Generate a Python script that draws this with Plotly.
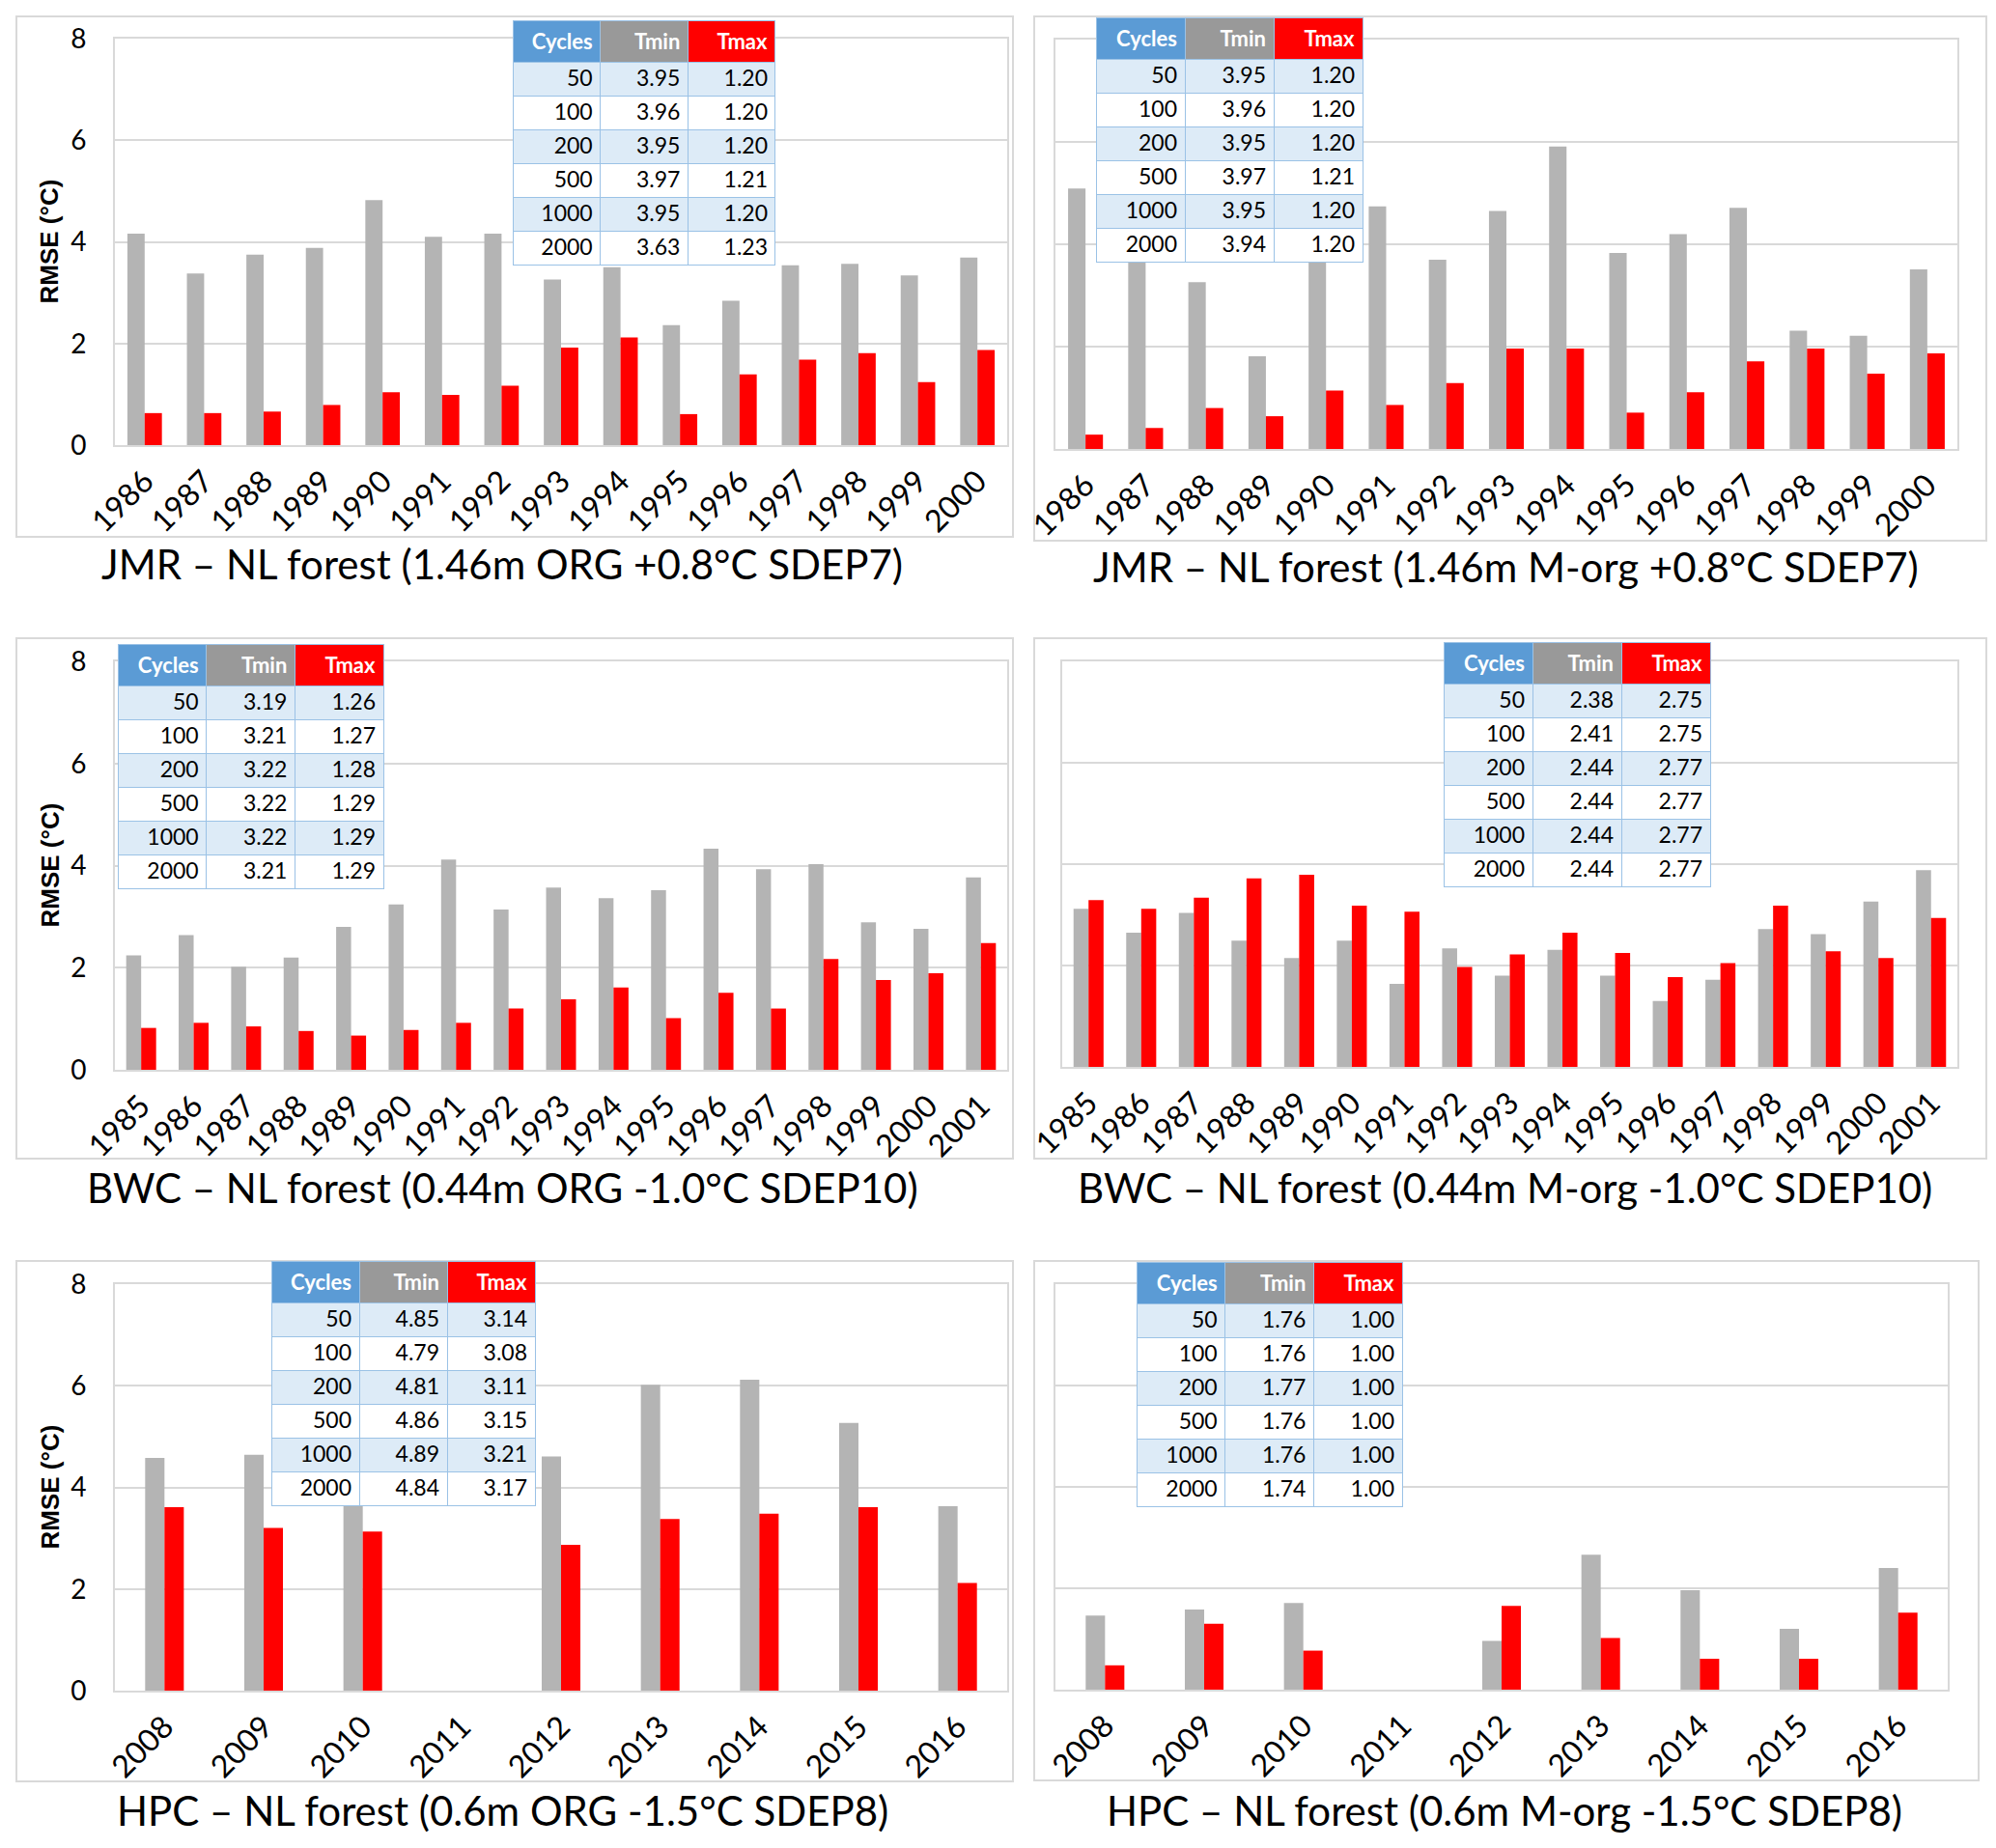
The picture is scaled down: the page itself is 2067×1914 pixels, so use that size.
import plotly.graph_objects as go

W, H = 2067, 1914

# ---------------- data ----------------
years_jmr = ['1986', '1987', '1988', '1989', '1990', '1991', '1992', '1993',
             '1994', '1995', '1996', '1997', '1998', '1999', '2000']
jmr_org_tmin = [4.16, 3.38, 3.75, 3.88, 4.82, 4.10, 4.16, 3.26, 3.50, 2.36, 2.84, 3.54, 3.57, 3.34, 3.69]
jmr_org_tmax = [0.63, 0.63, 0.66, 0.79, 1.04, 0.99, 1.17, 1.92, 2.12, 0.61, 1.39, 1.68, 1.81, 1.24, 1.87]
jmr_morg_tmin = [5.09, 3.89, 3.26, 1.81, 5.37, 4.74, 3.70, 4.65, 5.91, 3.83, 4.20, 4.71, 2.31, 2.21, 3.51]
jmr_morg_tmax = [0.28, 0.41, 0.80, 0.64, 1.14, 0.86, 1.29, 1.96, 1.96, 0.71, 1.11, 1.71, 1.96, 1.47, 1.87]

years_bwc = ['1985', '1986', '1987', '1988', '1989', '1990', '1991', '1992', '1993',
             '1994', '1995', '1996', '1997', '1998', '1999', '2000', '2001']
bwc_org_tmin = [2.24, 2.64, 2.02, 2.20, 2.80, 3.24, 4.12, 3.14, 3.57, 3.36, 3.52, 4.33, 3.93, 4.03, 2.89, 2.76, 3.77]
bwc_org_tmax = [0.82, 0.92, 0.85, 0.76, 0.67, 0.78, 0.92, 1.20, 1.38, 1.61, 1.01, 1.51, 1.20, 2.17, 1.76, 1.89, 2.48]
bwc_morg_tmin = [3.12, 2.65, 3.04, 2.49, 2.15, 2.49, 1.64, 2.34, 1.80, 2.31, 1.80, 1.30, 1.72, 2.72, 2.62, 3.26, 3.88]
bwc_morg_tmax = [3.29, 3.12, 3.34, 3.72, 3.79, 3.18, 3.06, 1.97, 2.22, 2.65, 2.25, 1.77, 2.05, 3.18, 2.28, 2.15, 2.94]

years_hpc = ['2008', '2009', '2010', '2011', '2012', '2013', '2014', '2015', '2016']
hpc_org_tmin = [4.58, 4.64, 3.85, None, 4.61, 6.02, 6.12, 5.27, 3.63]
hpc_org_tmax = [3.61, 3.20, 3.13, None, 2.87, 3.38, 3.48, 3.61, 2.12]
hpc_morg_tmin = [1.46, 1.58, 1.71, None, 0.96, 2.66, 1.96, 1.20, 2.40]
hpc_morg_tmax = [0.48, 1.30, 0.77, None, 1.65, 1.02, 0.61, 0.61, 1.52]

cycles = ['50', '100', '200', '500', '1000', '2000']
tab_jmr_org_tmin = [3.95, 3.96, 3.95, 3.97, 3.95, 3.63]
tab_jmr_org_tmax = [1.20, 1.20, 1.20, 1.21, 1.20, 1.23]
tab_jmr_morg_tmin = [3.95, 3.96, 3.95, 3.97, 3.95, 3.94]
tab_jmr_morg_tmax = [1.20, 1.20, 1.20, 1.21, 1.20, 1.20]
tab_bwc_org_tmin = [3.19, 3.21, 3.22, 3.22, 3.22, 3.21]
tab_bwc_org_tmax = [1.26, 1.27, 1.28, 1.29, 1.29, 1.29]
tab_bwc_morg_tmin = [2.38, 2.41, 2.44, 2.44, 2.44, 2.44]
tab_bwc_morg_tmax = [2.75, 2.75, 2.77, 2.77, 2.77, 2.77]
tab_hpc_org_tmin = [4.85, 4.79, 4.81, 4.86, 4.89, 4.84]
tab_hpc_org_tmax = [3.14, 3.08, 3.11, 3.15, 3.21, 3.17]
tab_hpc_morg_tmin = [1.76, 1.76, 1.77, 1.76, 1.76, 1.74]
tab_hpc_morg_tmax = [1.00, 1.00, 1.00, 1.00, 1.00, 1.00]

table_header = ['Cycles', 'Tmin', 'Tmax']
y_ticks = [0, 2, 4, 6, 8]
y_title = 'RMSE (°C)'

titles = [
    'JMR – NL forest (1.46m ORG +0.8°C SDEP7)',
    'JMR – NL forest (1.46m M-org +0.8°C SDEP7)',
    'BWC – NL forest (0.44m ORG -1.0°C SDEP10)',
    'BWC – NL forest (0.44m M-org -1.0°C SDEP10)',
    'HPC – NL forest (0.6m ORG -1.5°C SDEP8)',
    'HPC – NL forest (0.6m M-org -1.5°C SDEP8)',
]

# ---------------- layout geometry (window pixels) ----------------
panels = [
    dict(years=years_jmr, tmin=jmr_org_tmin, tmax=jmr_org_tmax, ttmin=tab_jmr_org_tmin, ttmax=tab_jmr_org_tmax,
         plot=(119, 40, 1043, 461), box=(17, 17, 1049, 556), table=(531, 21, 804), title=(520, 584), left=True, bw=0.29),
    dict(years=years_jmr, tmin=jmr_morg_tmin, tmax=jmr_morg_tmax, ttmin=tab_jmr_morg_tmin, ttmax=tab_jmr_morg_tmax,
         plot=(1093, 41, 2027, 465), box=(1071, 17, 2057, 560), table=(1135, 18, 1411), title=(1559, 587), left=False, bw=0.29),
    dict(years=years_bwc, tmin=bwc_org_tmin, tmax=bwc_org_tmax, ttmin=tab_bwc_org_tmin, ttmax=tab_bwc_org_tmax,
         plot=(119, 685, 1043, 1108), box=(17, 661, 1049, 1200), table=(122, 667, 397), title=(520, 1230), left=True, bw=0.285),
    dict(years=years_bwc, tmin=bwc_morg_tmin, tmax=bwc_morg_tmax, ttmin=tab_bwc_morg_tmin, ttmax=tab_bwc_morg_tmax,
         plot=(1100, 685, 2027, 1105), box=(1071, 661, 2057, 1200), table=(1495, 665, 1771), title=(1558, 1230), left=False, bw=0.285),
    dict(years=years_hpc, tmin=hpc_org_tmin, tmax=hpc_org_tmax, ttmin=tab_hpc_org_tmin, ttmax=tab_hpc_org_tmax,
         plot=(119, 1330, 1043, 1751), box=(17, 1306, 1049, 1845), table=(281, 1306, 555), title=(520, 1875), left=True, bw=0.195),
    dict(years=years_hpc, tmin=hpc_morg_tmin, tmax=hpc_morg_tmax, ttmin=tab_hpc_morg_tmin, ttmax=tab_hpc_morg_tmax,
         plot=(1093, 1330, 2017, 1750), box=(1071, 1306, 2049, 1844), table=(1177, 1307, 1453), title=(1558, 1875), left=False, bw=0.195),
]

FONT = 'Lato'
GRAY = '#B4B4B4'
RED = '#FF0000'
GRID = '#D9D9D9'
HDR_H, ROW_H = 33, 35

# the page body has an 8px margin: the figure is placed at (8, 8) in the window
OFF = 8
FW, FH = W - 2 * OFF, H - 2 * OFF


def fx(px):
    return (px - OFF) / FW


def fy(py):
    return 1 - (py - OFF) / FH


fig = go.Figure()
layout = dict(width=FW, height=FH, margin=dict(l=0, r=0, t=0, b=0, pad=0, autoexpand=False), autosize=False,
              template='none',
              paper_bgcolor='white', plot_bgcolor='rgba(0,0,0,0)', showlegend=False,
              font=dict(family=FONT, color='black'), shapes=[], annotations=[])

for i, p in enumerate(panels):
    n = i + 1
    xa = 'x' if n == 1 else f'x{n}'
    ya = 'y' if n == 1 else f'y{n}'
    x0, y0, x1, y1 = p['plot']
    bw = p['bw']
    fig.add_trace(go.Bar(x=p['years'], y=p['tmin'], marker=dict(color=GRAY, line=dict(width=0)),
                         width=bw, offset=-bw, xaxis=xa, yaxis=ya, name='Tmin'))
    fig.add_trace(go.Bar(x=p['years'], y=p['tmax'], marker=dict(color=RED, line=dict(width=0)),
                         width=bw, offset=0, xaxis=xa, yaxis=ya, name='Tmax'))
    layout[f'xaxis{"" if n == 1 else n}'] = dict(
        domain=[fx(x0), fx(x1)], anchor=ya, type='category', categoryorder='array',
        categoryarray=p['years'], range=[-0.5, len(p['years']) - 0.5], automargin=False,
        tickangle=-45, tickfont=dict(family=FONT, size=32, color='black'),
        showgrid=False, showline=True, mirror=True, linecolor=GRID, linewidth=2,
        ticks='', ticklabelstandoff=4, fixedrange=True)
    layout[f'yaxis{"" if n == 1 else n}'] = dict(
        domain=[fy(y1), fy(y0)], anchor=xa, range=[0, 8], tickvals=y_ticks, automargin=False,
        showticklabels=p['left'], tickfont=dict(family=FONT, size=28, color='black'),
        showgrid=True, gridcolor=GRID, gridwidth=2, zeroline=False,
        showline=True, mirror=True, linecolor=GRID, linewidth=2,
        ticks='', ticklabelstandoff=22, fixedrange=True)
    bx0, by0, bx1, by1 = p['box']
    layout['shapes'].append(dict(type='rect', xref='paper', yref='paper', x0=fx(bx0), x1=fx(bx1),
                                 y0=fy(by1), y1=fy(by0), line=dict(color=GRID, width=2),
                                 fillcolor='white', layer='below'))
    tx, ty = p['title']
    layout['annotations'].append(dict(text=titles[i], x=fx(tx), y=fy(ty), xref='paper', yref='paper',
                                      xanchor='center', yanchor='middle', showarrow=False,
                                      font=dict(family=FONT, size=42, color='black')))
    if p['left']:
        layout['annotations'].append(dict(text=f'<b>{y_title}</b>', x=fx(51), y=fy((y0 + y1) / 2),
                                          xref='paper', yref='paper', textangle=-90,
                                          xanchor='center', yanchor='middle', showarrow=False,
                                          font=dict(family='Liberation Sans', size=26, color='black')))
    # table (domain made taller than needed so no row is clipped)
    tx0, ty0, tx1 = p['table']
    ty1 = ty0 + HDR_H + ROW_H * len(cycles) + 60
    row_fill = ['#DDEBF7' if k % 2 == 0 else 'white' for k in range(len(cycles))]
    fig.add_trace(go.Table(
        domain=dict(x=[fx(tx0), fx(tx1)], y=[fy(ty1), fy(ty0)]),
        columnwidth=[1, 1, 1],
        header=dict(values=[f'<b>{h}</b>' for h in table_header],
                    fill=dict(color=['#5B9BD5', '#999999', RED]),
                    font=dict(family=FONT, size=22, color='white'), align='right',
                    height=HDR_H, line=dict(color='#9BC2E6', width=1)),
        cells=dict(values=[cycles, [f'{v:.2f}' for v in p['ttmin']], [f'{v:.2f}' for v in p['ttmax']]],
                   fill=dict(color=[row_fill] * 3),
                   font=dict(family=FONT, size=23, color='black'), align='right',
                   height=ROW_H, line=dict(color='#9BC2E6', width=1))))

fig.update_layout(**layout)
fig.write_html('out.html')
